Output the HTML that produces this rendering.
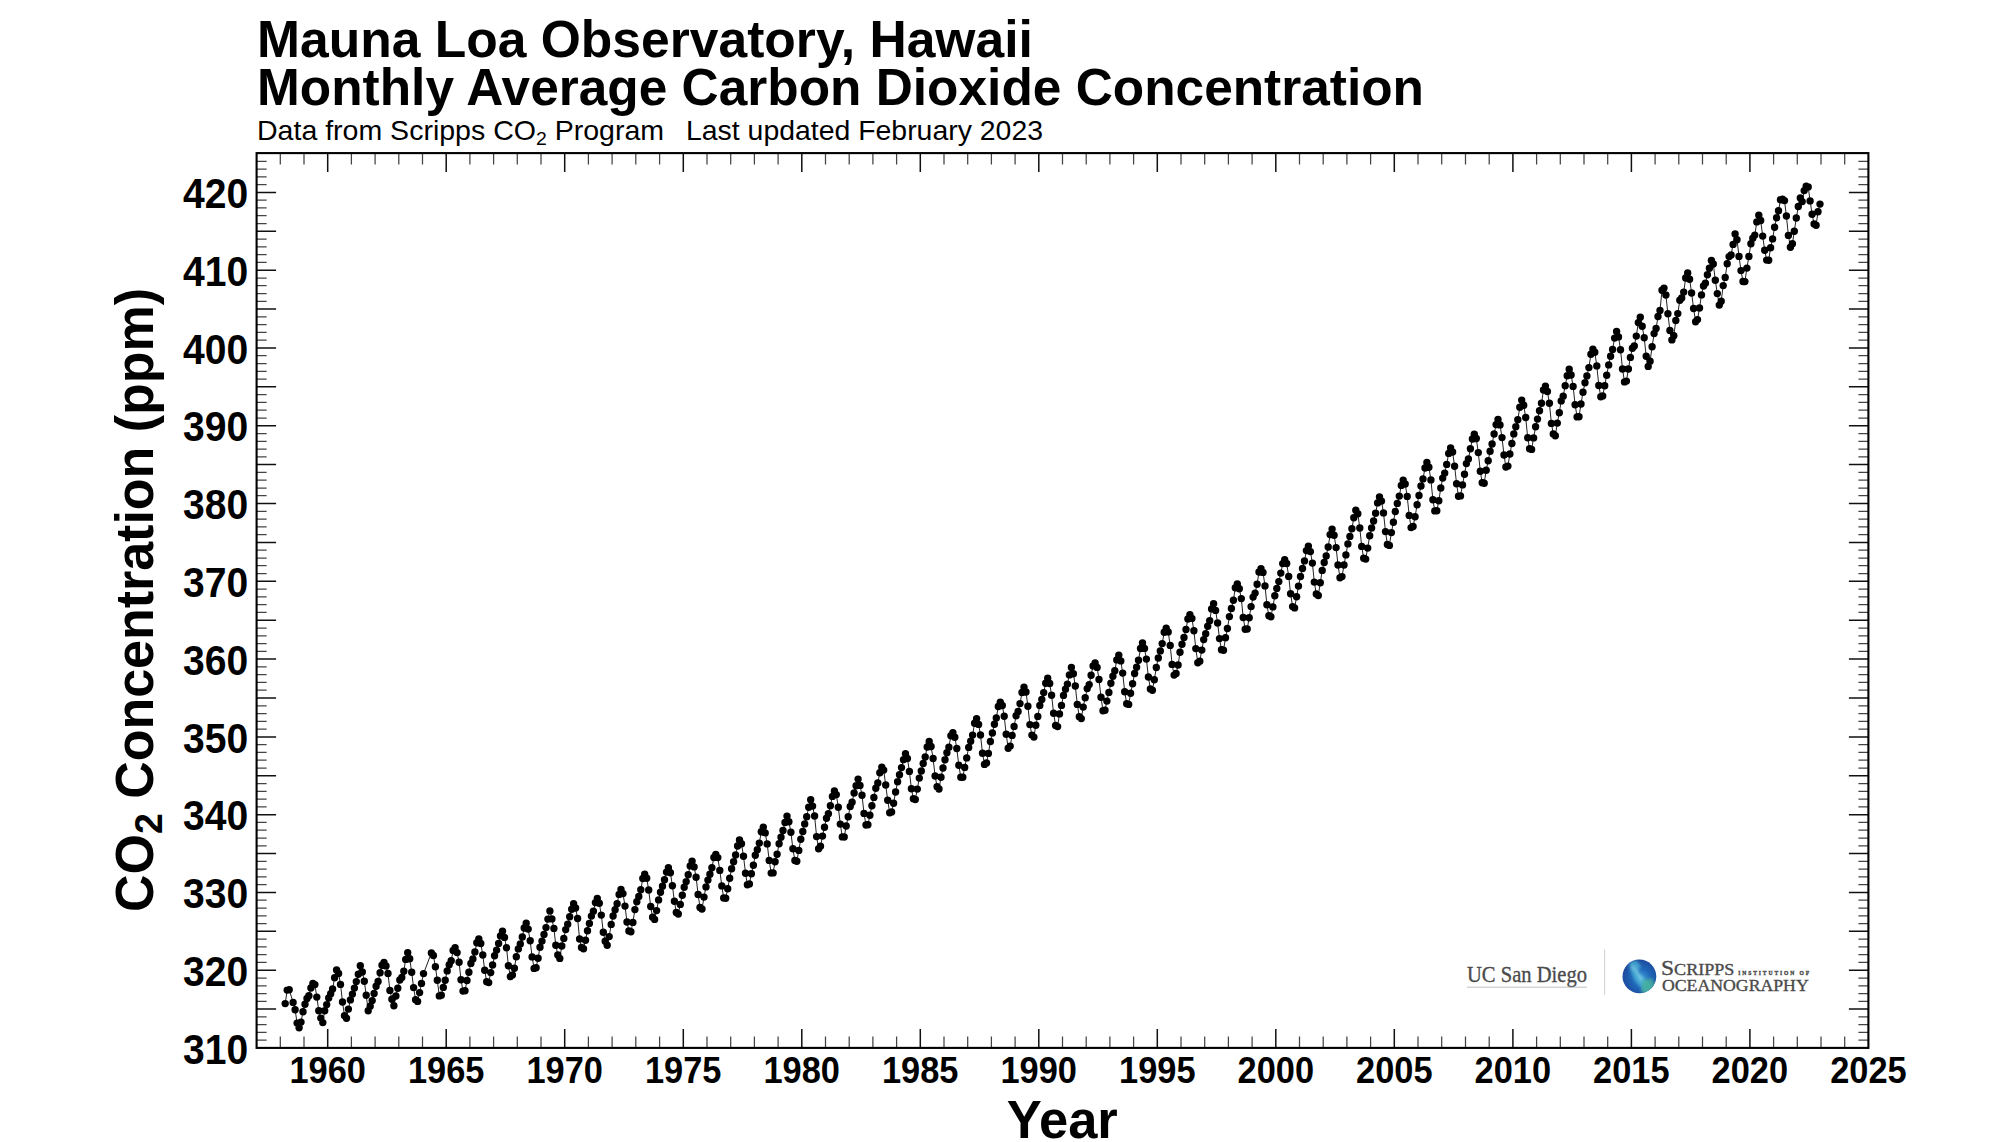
<!DOCTYPE html>
<html><head><meta charset="utf-8"><title>Mauna Loa CO2</title>
<style>
html,body{margin:0;padding:0;background:#fff;}
body{width:1998px;height:1142px;overflow:hidden;font-family:"Liberation Sans",sans-serif;}
svg{display:block}
text{font-family:"Liberation Sans",sans-serif;fill:#000}
.b{font-weight:bold}
.sf{font-family:"Liberation Serif",serif;fill:#4a4a4a}
</style></head><body>
<svg width="1998" height="1142" viewBox="0 0 1998 1142">
<rect width="1998" height="1142" fill="#fff"/>
<text class="b" font-size="52.5" x="257" y="57.0" textLength="775.8" lengthAdjust="spacingAndGlyphs">Mauna Loa Observatory, Hawaii</text>
<text class="b" font-size="52.5" x="257" y="105.3" textLength="1167" lengthAdjust="spacingAndGlyphs">Monthly Average Carbon Dioxide Concentration</text>
<text class="n" font-size="27.5" x="257" y="139.5" textLength="407" lengthAdjust="spacingAndGlyphs">Data from Scripps CO<tspan font-size="18.7" dy="5.5">2</tspan><tspan dy="-5.5"> Program</tspan></text>
<text class="n" font-size="27.5" x="686" y="139.5" textLength="357" lengthAdjust="spacingAndGlyphs">Last updated February 2023</text>
<path d="M285.2 1003.6 L287.2 990.1 L289.2 989.7 L293.1 1002.4 L295.1 1009.7 L297.1 1023.1 L299.1 1027.8 L301.0 1022.1 L303.0 1011.7 L305.0 1004.3 L307.0 998.4 L308.9 995.8 L310.9 988.0 L312.9 983.5 L314.9 984.6 L316.8 997.1 L318.8 1010.7 L320.8 1018.1 L322.8 1022.6 L324.7 1010.7 L326.7 1004.6 L328.7 998.0 L330.7 993.8 L332.6 989.0 L334.6 977.8 L336.6 970.0 L338.6 973.4 L340.5 984.4 L342.5 1002.0 L344.5 1015.6 L346.5 1018.2 L348.4 1009.1 L350.4 999.9 L352.4 994.1 L354.4 988.1 L356.3 981.6 L358.3 974.3 L360.3 965.7 L362.3 972.0 L364.3 981.3 L366.2 995.2 L368.2 1010.7 L370.2 1006.2 L372.2 1000.6 L374.1 993.5 L376.1 986.2 L378.1 981.4 L380.1 972.7 L382.0 965.3 L384.0 962.4 L386.0 965.9 L388.0 973.5 L389.9 990.4 L391.9 999.3 L393.9 1005.8 L395.9 996.0 L397.8 988.2 L399.8 980.0 L401.8 977.4 L403.8 971.3 L405.7 959.4 L407.7 952.7 L409.7 958.8 L411.7 972.2 L413.6 987.6 L415.6 999.7 L417.6 1001.4 L419.6 992.6 L421.5 983.4 L423.5 973.6 L431.4 952.9 L433.4 955.5 L435.4 966.8 L437.3 980.3 L439.3 995.9 L441.3 995.2 L443.3 987.4 L445.2 980.3 L447.2 970.9 L449.2 964.8 L451.2 960.7 L453.1 950.5 L455.1 947.6 L457.1 952.6 L459.1 962.2 L461.0 979.8 L463.0 991.1 L465.0 990.7 L467.0 980.5 L468.9 972.3 L470.9 963.4 L472.9 959.0 L474.9 951.9 L476.8 942.8 L478.8 938.9 L480.8 943.5 L482.8 955.0 L484.7 970.3 L486.7 981.8 L488.7 982.6 L490.7 972.6 L492.6 965.0 L494.6 955.8 L496.6 950.1 L498.6 943.4 L500.5 935.9 L502.5 931.2 L504.5 937.4 L506.5 947.7 L508.4 965.7 L510.4 976.6 L512.4 975.0 L514.4 968.2 L516.3 956.7 L518.3 948.9 L520.3 944.0 L522.3 937.0 L524.2 928.0 L526.2 923.2 L528.2 929.1 L530.2 940.8 L532.1 956.9 L534.1 968.4 L536.1 967.7 L538.1 958.2 L540.0 947.2 L542.0 941.1 L544.0 934.4 L546.0 927.6 L547.9 919.1 L549.9 910.9 L551.9 918.9 L553.9 928.4 L555.8 945.2 L557.8 954.9 L559.8 958.4 L561.8 946.0 L563.8 938.4 L565.7 929.6 L567.7 924.3 L569.7 916.8 L571.7 909.2 L573.6 903.7 L575.6 908.0 L577.6 918.5 L579.6 939.0 L581.5 947.5 L583.5 948.7 L585.5 940.3 L587.5 930.8 L589.4 923.4 L591.4 916.1 L593.4 911.2 L595.4 902.6 L597.3 898.4 L599.3 903.3 L601.3 915.1 L603.3 932.3 L605.2 941.3 L607.2 945.2 L609.2 936.6 L611.2 924.4 L613.1 916.0 L615.1 909.8 L617.1 903.7 L619.1 894.4 L621.0 889.4 L623.0 893.6 L625.0 906.1 L627.0 922.0 L628.9 930.9 L630.9 931.8 L632.9 922.4 L634.9 909.6 L636.8 901.8 L638.8 896.5 L640.8 889.7 L642.8 878.5 L644.7 874.1 L646.7 878.3 L648.7 890.0 L650.7 906.5 L652.6 917.2 L654.6 919.4 L656.6 910.6 L658.6 899.9 L660.5 892.3 L662.5 886.3 L664.5 879.8 L666.5 872.1 L668.4 867.8 L670.4 872.8 L672.4 885.8 L674.4 901.2 L676.3 912.4 L678.3 914.0 L680.3 904.4 L682.3 895.2 L684.2 887.3 L686.2 881.6 L688.2 874.8 L690.2 865.9 L692.1 861.1 L694.1 866.9 L696.1 877.2 L698.1 894.5 L700.0 907.4 L702.0 909.0 L704.0 897.1 L706.0 886.9 L707.9 880.1 L709.9 874.2 L711.9 867.8 L713.9 857.5 L715.8 854.4 L717.8 857.6 L719.8 870.4 L721.8 885.9 L723.7 898.0 L725.7 898.2 L727.7 888.7 L729.7 878.2 L731.6 868.8 L733.6 861.8 L735.6 855.0 L737.6 846.0 L739.5 839.9 L741.5 843.8 L743.5 856.3 L745.5 873.2 L747.4 884.8 L749.4 883.9 L751.4 873.7 L753.4 865.2 L755.3 855.2 L757.3 849.8 L759.3 843.1 L761.3 831.7 L763.3 827.1 L765.2 832.9 L767.2 843.9 L769.2 860.4 L771.2 873.1 L773.1 872.9 L775.1 861.8 L777.1 854.3 L779.1 843.7 L781.0 837.2 L783.0 830.5 L785.0 822.5 L787.0 816.1 L788.9 821.8 L790.9 832.2 L792.9 848.8 L794.9 860.5 L796.8 861.3 L798.8 850.4 L800.8 839.2 L802.8 831.5 L804.7 823.9 L806.7 816.7 L808.7 807.3 L810.7 799.8 L812.6 806.1 L814.6 816.0 L816.6 836.6 L818.6 848.7 L820.5 846.3 L822.5 836.1 L824.5 827.3 L826.5 818.2 L828.4 813.7 L830.4 805.8 L832.4 796.4 L834.4 790.9 L836.3 794.6 L838.3 807.2 L840.3 824.1 L842.3 836.9 L844.2 837.0 L846.2 826.0 L848.2 816.7 L850.2 806.5 L852.1 802.2 L854.1 793.0 L856.1 785.7 L858.1 779.1 L860.0 785.4 L862.0 795.2 L864.0 813.4 L866.0 825.0 L867.9 824.8 L869.9 815.3 L871.9 805.7 L873.9 797.4 L875.8 788.3 L877.8 782.9 L879.8 772.8 L881.8 767.2 L883.7 770.1 L885.7 785.0 L887.7 800.3 L889.7 812.7 L891.6 812.0 L893.6 803.2 L895.6 792.0 L897.6 781.8 L899.5 774.8 L901.5 767.6 L903.5 759.7 L905.5 753.8 L907.4 758.4 L909.4 771.4 L911.4 788.7 L913.4 798.8 L915.3 799.5 L917.3 789.1 L919.3 778.1 L921.3 771.0 L923.2 763.5 L925.2 756.9 L927.2 747.0 L929.2 741.5 L931.1 746.5 L933.1 758.5 L935.1 776.0 L937.1 786.7 L939.0 789.0 L941.0 777.3 L943.0 768.0 L945.0 759.8 L946.9 752.8 L948.9 747.3 L950.9 735.8 L952.9 732.6 L954.8 737.2 L956.8 748.5 L958.8 765.3 L960.8 777.2 L962.8 777.3 L964.7 767.4 L966.7 757.9 L968.7 747.4 L970.7 741.2 L972.6 735.1 L974.6 723.3 L976.6 718.8 L978.6 724.4 L980.5 735.0 L982.5 753.3 L984.5 764.4 L986.5 763.0 L988.4 753.4 L990.4 741.5 L992.4 733.0 L994.4 724.3 L996.3 717.9 L998.3 706.5 L1000.3 702.3 L1002.3 705.5 L1004.2 716.3 L1006.2 734.2 L1008.2 748.3 L1010.2 746.1 L1012.1 735.4 L1014.1 726.4 L1016.1 715.7 L1018.1 711.5 L1020.0 703.6 L1022.0 692.5 L1024.0 687.2 L1026.0 692.0 L1027.9 706.3 L1029.9 724.6 L1031.9 735.1 L1033.9 737.1 L1035.8 725.3 L1037.8 716.4 L1039.8 705.4 L1041.8 699.4 L1043.7 692.6 L1045.7 683.2 L1047.7 678.3 L1049.7 683.5 L1051.6 695.3 L1053.6 713.2 L1055.6 725.4 L1057.6 726.6 L1059.5 713.9 L1061.5 705.4 L1063.5 695.4 L1065.5 689.2 L1067.4 684.1 L1069.4 674.9 L1071.4 667.4 L1073.4 673.8 L1075.3 686.0 L1077.3 704.4 L1079.3 716.7 L1081.3 718.6 L1083.2 707.1 L1085.2 697.8 L1087.2 688.6 L1089.2 684.6 L1091.1 675.2 L1093.1 665.9 L1095.1 662.9 L1097.1 667.4 L1099.0 679.5 L1101.0 697.3 L1103.0 710.7 L1105.0 710.3 L1106.9 701.1 L1108.9 692.4 L1110.9 683.3 L1112.9 676.3 L1114.8 670.7 L1116.8 659.9 L1118.8 655.1 L1120.8 660.9 L1122.7 673.1 L1124.7 691.7 L1126.7 703.8 L1128.7 704.4 L1130.6 693.3 L1132.6 683.8 L1134.6 673.5 L1136.6 667.3 L1138.5 660.2 L1140.5 648.5 L1142.5 643.0 L1144.5 648.4 L1146.4 659.1 L1148.4 677.0 L1150.4 689.0 L1152.4 690.3 L1154.3 679.7 L1156.3 667.5 L1158.3 658.0 L1160.3 650.9 L1162.2 643.6 L1164.2 632.3 L1166.2 628.1 L1168.2 631.9 L1170.2 645.4 L1172.1 664.4 L1174.1 675.1 L1176.1 673.5 L1178.1 665.0 L1180.0 652.3 L1182.0 644.2 L1184.0 637.4 L1186.0 629.5 L1187.9 619.0 L1189.9 614.6 L1191.9 618.4 L1193.9 630.7 L1195.8 648.6 L1197.8 662.7 L1199.8 661.2 L1201.8 650.1 L1203.7 639.6 L1205.7 633.7 L1207.7 626.2 L1209.7 620.8 L1211.6 608.9 L1213.6 603.8 L1215.6 610.4 L1217.6 623.0 L1219.5 638.6 L1221.5 649.8 L1223.5 650.3 L1225.5 637.8 L1227.4 628.5 L1229.4 616.6 L1231.4 608.5 L1233.4 600.2 L1235.3 587.7 L1237.3 583.9 L1239.3 588.8 L1241.3 598.6 L1243.2 617.5 L1245.2 629.2 L1247.2 629.0 L1249.2 617.8 L1251.1 606.6 L1253.1 597.1 L1255.1 593.1 L1257.1 584.2 L1259.0 572.0 L1261.0 568.7 L1263.0 572.4 L1265.0 585.9 L1266.9 604.7 L1268.9 615.8 L1270.9 616.8 L1272.9 606.9 L1274.8 595.8 L1276.8 588.4 L1278.8 581.6 L1280.8 573.1 L1282.7 563.6 L1284.7 559.6 L1286.7 563.5 L1288.7 576.4 L1290.6 593.7 L1292.6 606.6 L1294.6 607.9 L1296.6 596.8 L1298.5 586.1 L1300.5 576.5 L1302.5 568.5 L1304.5 560.9 L1306.4 550.6 L1308.4 546.1 L1310.4 551.6 L1312.4 563.1 L1314.3 582.1 L1316.3 593.9 L1318.3 595.5 L1320.3 582.8 L1322.2 570.4 L1324.2 562.5 L1326.2 555.9 L1328.2 547.0 L1330.1 534.6 L1332.1 529.1 L1334.1 535.3 L1336.1 547.6 L1338.0 565.0 L1340.0 577.8 L1342.0 576.6 L1344.0 565.0 L1345.9 554.9 L1347.9 543.9 L1349.9 536.4 L1351.9 528.8 L1353.8 517.8 L1355.8 510.2 L1357.8 513.7 L1359.8 528.0 L1361.7 546.4 L1363.7 558.3 L1365.7 559.1 L1367.7 548.1 L1369.7 535.7 L1371.6 528.0 L1373.6 521.0 L1375.6 513.3 L1377.6 502.9 L1379.5 496.9 L1381.5 501.1 L1383.5 512.9 L1385.5 531.6 L1387.4 544.5 L1389.4 545.4 L1391.4 532.6 L1393.4 522.3 L1395.3 511.5 L1397.3 503.4 L1399.3 496.1 L1401.3 485.4 L1403.2 480.1 L1405.2 484.0 L1407.2 496.4 L1409.2 515.4 L1411.1 527.6 L1413.1 526.4 L1415.1 516.7 L1417.1 504.8 L1419.0 495.4 L1421.0 486.0 L1423.0 478.9 L1425.0 468.0 L1426.9 462.4 L1428.9 467.2 L1430.9 479.9 L1432.9 499.8 L1434.8 510.9 L1436.8 510.7 L1438.8 500.7 L1440.8 488.0 L1442.7 478.1 L1444.7 473.1 L1446.7 464.4 L1448.7 453.4 L1450.6 447.9 L1452.6 452.0 L1454.6 466.2 L1456.6 483.8 L1458.5 496.2 L1460.5 495.9 L1462.5 484.9 L1464.5 474.3 L1466.4 463.6 L1468.4 459.0 L1470.4 448.8 L1472.4 439.0 L1474.3 434.3 L1476.3 438.5 L1478.3 452.6 L1480.3 471.3 L1482.2 482.7 L1484.2 483.2 L1486.2 470.2 L1488.2 460.8 L1490.1 451.2 L1492.1 444.0 L1494.1 434.0 L1496.1 424.6 L1498.0 419.5 L1500.0 424.9 L1502.0 437.6 L1504.0 455.0 L1505.9 467.0 L1507.9 466.1 L1509.9 454.0 L1511.9 443.5 L1513.8 433.9 L1515.8 426.7 L1517.8 419.7 L1519.8 407.3 L1521.7 400.1 L1523.7 405.3 L1525.7 417.5 L1527.7 437.7 L1529.6 448.7 L1531.6 449.4 L1533.6 437.9 L1535.6 426.8 L1537.5 419.1 L1539.5 410.7 L1541.5 403.2 L1543.5 390.0 L1545.4 386.2 L1547.4 391.5 L1549.4 403.3 L1551.4 423.4 L1553.3 434.0 L1555.3 435.7 L1557.3 423.1 L1559.3 412.7 L1561.2 400.9 L1563.2 396.2 L1565.2 385.7 L1567.2 375.8 L1569.2 369.2 L1571.1 375.0 L1573.1 386.4 L1575.1 404.7 L1577.1 416.9 L1579.0 416.7 L1581.0 404.0 L1583.0 392.2 L1585.0 382.8 L1586.9 375.9 L1588.9 367.6 L1590.9 354.3 L1592.9 349.1 L1594.8 352.3 L1596.8 365.9 L1598.8 385.5 L1600.8 396.8 L1602.7 395.9 L1604.7 385.7 L1606.7 375.2 L1608.7 364.9 L1610.6 356.2 L1612.6 349.4 L1614.6 338.1 L1616.6 331.4 L1618.5 336.9 L1620.5 349.7 L1622.5 369.0 L1624.5 381.9 L1626.4 381.1 L1628.4 369.0 L1630.4 357.4 L1632.4 348.3 L1634.3 345.9 L1636.3 336.1 L1638.3 322.6 L1640.3 317.3 L1642.2 326.2 L1644.2 337.8 L1646.2 356.3 L1648.2 366.4 L1650.1 361.3 L1652.1 346.7 L1654.1 333.6 L1656.1 328.4 L1658.0 316.5 L1660.0 310.4 L1662.0 290.2 L1664.0 288.1 L1665.9 295.0 L1667.9 313.8 L1669.9 330.5 L1671.9 339.9 L1673.8 335.7 L1675.8 320.5 L1677.8 313.6 L1679.8 300.3 L1681.7 298.0 L1683.7 292.1 L1685.7 278.0 L1687.7 272.9 L1689.6 279.2 L1691.6 293.0 L1693.6 308.5 L1695.6 321.7 L1697.5 319.6 L1699.5 308.0 L1701.5 294.9 L1703.5 286.0 L1705.4 283.2 L1707.4 274.8 L1709.4 268.3 L1711.4 260.5 L1713.3 264.0 L1715.3 280.2 L1717.3 293.6 L1719.3 305.1 L1721.2 301.3 L1723.2 285.6 L1725.2 277.4 L1727.2 263.7 L1729.1 256.6 L1731.1 254.9 L1733.1 244.4 L1735.1 233.9 L1737.0 239.7 L1739.0 256.4 L1741.0 270.6 L1743.0 281.5 L1744.9 281.6 L1746.9 268.1 L1748.9 256.5 L1750.9 243.7 L1752.8 238.2 L1754.8 235.1 L1756.8 221.9 L1758.8 215.2 L1760.7 220.5 L1762.7 236.1 L1764.7 250.3 L1766.7 260.1 L1768.7 260.2 L1770.6 247.7 L1772.6 238.9 L1774.6 227.2 L1776.6 217.7 L1778.5 210.7 L1780.5 199.8 L1782.5 199.2 L1784.5 200.6 L1786.4 216.0 L1788.4 235.4 L1790.4 247.2 L1792.4 243.7 L1794.3 231.2 L1796.3 218.0 L1798.3 206.5 L1800.3 198.0 L1802.2 201.6 L1804.2 190.6 L1806.2 186.2 L1808.2 186.9 L1810.1 200.9 L1812.1 214.2 L1814.1 223.9 L1816.1 225.2 L1818.0 211.8 L1820.0 204.1" fill="none" stroke="#222" stroke-width="1"/>
<path d="M285.2 1003.6h0M287.2 990.1h0M289.2 989.7h0M293.1 1002.4h0M295.1 1009.7h0M297.1 1023.1h0M299.1 1027.8h0M301.0 1022.1h0M303.0 1011.7h0M305.0 1004.3h0M307.0 998.4h0M308.9 995.8h0M310.9 988.0h0M312.9 983.5h0M314.9 984.6h0M316.8 997.1h0M318.8 1010.7h0M320.8 1018.1h0M322.8 1022.6h0M324.7 1010.7h0M326.7 1004.6h0M328.7 998.0h0M330.7 993.8h0M332.6 989.0h0M334.6 977.8h0M336.6 970.0h0M338.6 973.4h0M340.5 984.4h0M342.5 1002.0h0M344.5 1015.6h0M346.5 1018.2h0M348.4 1009.1h0M350.4 999.9h0M352.4 994.1h0M354.4 988.1h0M356.3 981.6h0M358.3 974.3h0M360.3 965.7h0M362.3 972.0h0M364.3 981.3h0M366.2 995.2h0M368.2 1010.7h0M370.2 1006.2h0M372.2 1000.6h0M374.1 993.5h0M376.1 986.2h0M378.1 981.4h0M380.1 972.7h0M382.0 965.3h0M384.0 962.4h0M386.0 965.9h0M388.0 973.5h0M389.9 990.4h0M391.9 999.3h0M393.9 1005.8h0M395.9 996.0h0M397.8 988.2h0M399.8 980.0h0M401.8 977.4h0M403.8 971.3h0M405.7 959.4h0M407.7 952.7h0M409.7 958.8h0M411.7 972.2h0M413.6 987.6h0M415.6 999.7h0M417.6 1001.4h0M419.6 992.6h0M421.5 983.4h0M423.5 973.6h0M431.4 952.9h0M433.4 955.5h0M435.4 966.8h0M437.3 980.3h0M439.3 995.9h0M441.3 995.2h0M443.3 987.4h0M445.2 980.3h0M447.2 970.9h0M449.2 964.8h0M451.2 960.7h0M453.1 950.5h0M455.1 947.6h0M457.1 952.6h0M459.1 962.2h0M461.0 979.8h0M463.0 991.1h0M465.0 990.7h0M467.0 980.5h0M468.9 972.3h0M470.9 963.4h0M472.9 959.0h0M474.9 951.9h0M476.8 942.8h0M478.8 938.9h0M480.8 943.5h0M482.8 955.0h0M484.7 970.3h0M486.7 981.8h0M488.7 982.6h0M490.7 972.6h0M492.6 965.0h0M494.6 955.8h0M496.6 950.1h0M498.6 943.4h0M500.5 935.9h0M502.5 931.2h0M504.5 937.4h0M506.5 947.7h0M508.4 965.7h0M510.4 976.6h0M512.4 975.0h0M514.4 968.2h0M516.3 956.7h0M518.3 948.9h0M520.3 944.0h0M522.3 937.0h0M524.2 928.0h0M526.2 923.2h0M528.2 929.1h0M530.2 940.8h0M532.1 956.9h0M534.1 968.4h0M536.1 967.7h0M538.1 958.2h0M540.0 947.2h0M542.0 941.1h0M544.0 934.4h0M546.0 927.6h0M547.9 919.1h0M549.9 910.9h0M551.9 918.9h0M553.9 928.4h0M555.8 945.2h0M557.8 954.9h0M559.8 958.4h0M561.8 946.0h0M563.8 938.4h0M565.7 929.6h0M567.7 924.3h0M569.7 916.8h0M571.7 909.2h0M573.6 903.7h0M575.6 908.0h0M577.6 918.5h0M579.6 939.0h0M581.5 947.5h0M583.5 948.7h0M585.5 940.3h0M587.5 930.8h0M589.4 923.4h0M591.4 916.1h0M593.4 911.2h0M595.4 902.6h0M597.3 898.4h0M599.3 903.3h0M601.3 915.1h0M603.3 932.3h0M605.2 941.3h0M607.2 945.2h0M609.2 936.6h0M611.2 924.4h0M613.1 916.0h0M615.1 909.8h0M617.1 903.7h0M619.1 894.4h0M621.0 889.4h0M623.0 893.6h0M625.0 906.1h0M627.0 922.0h0M628.9 930.9h0M630.9 931.8h0M632.9 922.4h0M634.9 909.6h0M636.8 901.8h0M638.8 896.5h0M640.8 889.7h0M642.8 878.5h0M644.7 874.1h0M646.7 878.3h0M648.7 890.0h0M650.7 906.5h0M652.6 917.2h0M654.6 919.4h0M656.6 910.6h0M658.6 899.9h0M660.5 892.3h0M662.5 886.3h0M664.5 879.8h0M666.5 872.1h0M668.4 867.8h0M670.4 872.8h0M672.4 885.8h0M674.4 901.2h0M676.3 912.4h0M678.3 914.0h0M680.3 904.4h0M682.3 895.2h0M684.2 887.3h0M686.2 881.6h0M688.2 874.8h0M690.2 865.9h0M692.1 861.1h0M694.1 866.9h0M696.1 877.2h0M698.1 894.5h0M700.0 907.4h0M702.0 909.0h0M704.0 897.1h0M706.0 886.9h0M707.9 880.1h0M709.9 874.2h0M711.9 867.8h0M713.9 857.5h0M715.8 854.4h0M717.8 857.6h0M719.8 870.4h0M721.8 885.9h0M723.7 898.0h0M725.7 898.2h0M727.7 888.7h0M729.7 878.2h0M731.6 868.8h0M733.6 861.8h0M735.6 855.0h0M737.6 846.0h0M739.5 839.9h0M741.5 843.8h0M743.5 856.3h0M745.5 873.2h0M747.4 884.8h0M749.4 883.9h0M751.4 873.7h0M753.4 865.2h0M755.3 855.2h0M757.3 849.8h0M759.3 843.1h0M761.3 831.7h0M763.3 827.1h0M765.2 832.9h0M767.2 843.9h0M769.2 860.4h0M771.2 873.1h0M773.1 872.9h0M775.1 861.8h0M777.1 854.3h0M779.1 843.7h0M781.0 837.2h0M783.0 830.5h0M785.0 822.5h0M787.0 816.1h0M788.9 821.8h0M790.9 832.2h0M792.9 848.8h0M794.9 860.5h0M796.8 861.3h0M798.8 850.4h0M800.8 839.2h0M802.8 831.5h0M804.7 823.9h0M806.7 816.7h0M808.7 807.3h0M810.7 799.8h0M812.6 806.1h0M814.6 816.0h0M816.6 836.6h0M818.6 848.7h0M820.5 846.3h0M822.5 836.1h0M824.5 827.3h0M826.5 818.2h0M828.4 813.7h0M830.4 805.8h0M832.4 796.4h0M834.4 790.9h0M836.3 794.6h0M838.3 807.2h0M840.3 824.1h0M842.3 836.9h0M844.2 837.0h0M846.2 826.0h0M848.2 816.7h0M850.2 806.5h0M852.1 802.2h0M854.1 793.0h0M856.1 785.7h0M858.1 779.1h0M860.0 785.4h0M862.0 795.2h0M864.0 813.4h0M866.0 825.0h0M867.9 824.8h0M869.9 815.3h0M871.9 805.7h0M873.9 797.4h0M875.8 788.3h0M877.8 782.9h0M879.8 772.8h0M881.8 767.2h0M883.7 770.1h0M885.7 785.0h0M887.7 800.3h0M889.7 812.7h0M891.6 812.0h0M893.6 803.2h0M895.6 792.0h0M897.6 781.8h0M899.5 774.8h0M901.5 767.6h0M903.5 759.7h0M905.5 753.8h0M907.4 758.4h0M909.4 771.4h0M911.4 788.7h0M913.4 798.8h0M915.3 799.5h0M917.3 789.1h0M919.3 778.1h0M921.3 771.0h0M923.2 763.5h0M925.2 756.9h0M927.2 747.0h0M929.2 741.5h0M931.1 746.5h0M933.1 758.5h0M935.1 776.0h0M937.1 786.7h0M939.0 789.0h0M941.0 777.3h0M943.0 768.0h0M945.0 759.8h0M946.9 752.8h0M948.9 747.3h0M950.9 735.8h0M952.9 732.6h0M954.8 737.2h0M956.8 748.5h0M958.8 765.3h0M960.8 777.2h0M962.8 777.3h0M964.7 767.4h0M966.7 757.9h0M968.7 747.4h0M970.7 741.2h0M972.6 735.1h0M974.6 723.3h0M976.6 718.8h0M978.6 724.4h0M980.5 735.0h0M982.5 753.3h0M984.5 764.4h0M986.5 763.0h0M988.4 753.4h0M990.4 741.5h0M992.4 733.0h0M994.4 724.3h0M996.3 717.9h0M998.3 706.5h0M1000.3 702.3h0M1002.3 705.5h0M1004.2 716.3h0M1006.2 734.2h0M1008.2 748.3h0M1010.2 746.1h0M1012.1 735.4h0M1014.1 726.4h0M1016.1 715.7h0M1018.1 711.5h0M1020.0 703.6h0M1022.0 692.5h0M1024.0 687.2h0M1026.0 692.0h0M1027.9 706.3h0M1029.9 724.6h0M1031.9 735.1h0M1033.9 737.1h0M1035.8 725.3h0M1037.8 716.4h0M1039.8 705.4h0M1041.8 699.4h0M1043.7 692.6h0M1045.7 683.2h0M1047.7 678.3h0M1049.7 683.5h0M1051.6 695.3h0M1053.6 713.2h0M1055.6 725.4h0M1057.6 726.6h0M1059.5 713.9h0M1061.5 705.4h0M1063.5 695.4h0M1065.5 689.2h0M1067.4 684.1h0M1069.4 674.9h0M1071.4 667.4h0M1073.4 673.8h0M1075.3 686.0h0M1077.3 704.4h0M1079.3 716.7h0M1081.3 718.6h0M1083.2 707.1h0M1085.2 697.8h0M1087.2 688.6h0M1089.2 684.6h0M1091.1 675.2h0M1093.1 665.9h0M1095.1 662.9h0M1097.1 667.4h0M1099.0 679.5h0M1101.0 697.3h0M1103.0 710.7h0M1105.0 710.3h0M1106.9 701.1h0M1108.9 692.4h0M1110.9 683.3h0M1112.9 676.3h0M1114.8 670.7h0M1116.8 659.9h0M1118.8 655.1h0M1120.8 660.9h0M1122.7 673.1h0M1124.7 691.7h0M1126.7 703.8h0M1128.7 704.4h0M1130.6 693.3h0M1132.6 683.8h0M1134.6 673.5h0M1136.6 667.3h0M1138.5 660.2h0M1140.5 648.5h0M1142.5 643.0h0M1144.5 648.4h0M1146.4 659.1h0M1148.4 677.0h0M1150.4 689.0h0M1152.4 690.3h0M1154.3 679.7h0M1156.3 667.5h0M1158.3 658.0h0M1160.3 650.9h0M1162.2 643.6h0M1164.2 632.3h0M1166.2 628.1h0M1168.2 631.9h0M1170.2 645.4h0M1172.1 664.4h0M1174.1 675.1h0M1176.1 673.5h0M1178.1 665.0h0M1180.0 652.3h0M1182.0 644.2h0M1184.0 637.4h0M1186.0 629.5h0M1187.9 619.0h0M1189.9 614.6h0M1191.9 618.4h0M1193.9 630.7h0M1195.8 648.6h0M1197.8 662.7h0M1199.8 661.2h0M1201.8 650.1h0M1203.7 639.6h0M1205.7 633.7h0M1207.7 626.2h0M1209.7 620.8h0M1211.6 608.9h0M1213.6 603.8h0M1215.6 610.4h0M1217.6 623.0h0M1219.5 638.6h0M1221.5 649.8h0M1223.5 650.3h0M1225.5 637.8h0M1227.4 628.5h0M1229.4 616.6h0M1231.4 608.5h0M1233.4 600.2h0M1235.3 587.7h0M1237.3 583.9h0M1239.3 588.8h0M1241.3 598.6h0M1243.2 617.5h0M1245.2 629.2h0M1247.2 629.0h0M1249.2 617.8h0M1251.1 606.6h0M1253.1 597.1h0M1255.1 593.1h0M1257.1 584.2h0M1259.0 572.0h0M1261.0 568.7h0M1263.0 572.4h0M1265.0 585.9h0M1266.9 604.7h0M1268.9 615.8h0M1270.9 616.8h0M1272.9 606.9h0M1274.8 595.8h0M1276.8 588.4h0M1278.8 581.6h0M1280.8 573.1h0M1282.7 563.6h0M1284.7 559.6h0M1286.7 563.5h0M1288.7 576.4h0M1290.6 593.7h0M1292.6 606.6h0M1294.6 607.9h0M1296.6 596.8h0M1298.5 586.1h0M1300.5 576.5h0M1302.5 568.5h0M1304.5 560.9h0M1306.4 550.6h0M1308.4 546.1h0M1310.4 551.6h0M1312.4 563.1h0M1314.3 582.1h0M1316.3 593.9h0M1318.3 595.5h0M1320.3 582.8h0M1322.2 570.4h0M1324.2 562.5h0M1326.2 555.9h0M1328.2 547.0h0M1330.1 534.6h0M1332.1 529.1h0M1334.1 535.3h0M1336.1 547.6h0M1338.0 565.0h0M1340.0 577.8h0M1342.0 576.6h0M1344.0 565.0h0M1345.9 554.9h0M1347.9 543.9h0M1349.9 536.4h0M1351.9 528.8h0M1353.8 517.8h0M1355.8 510.2h0M1357.8 513.7h0M1359.8 528.0h0M1361.7 546.4h0M1363.7 558.3h0M1365.7 559.1h0M1367.7 548.1h0M1369.7 535.7h0M1371.6 528.0h0M1373.6 521.0h0M1375.6 513.3h0M1377.6 502.9h0M1379.5 496.9h0M1381.5 501.1h0M1383.5 512.9h0M1385.5 531.6h0M1387.4 544.5h0M1389.4 545.4h0M1391.4 532.6h0M1393.4 522.3h0M1395.3 511.5h0M1397.3 503.4h0M1399.3 496.1h0M1401.3 485.4h0M1403.2 480.1h0M1405.2 484.0h0M1407.2 496.4h0M1409.2 515.4h0M1411.1 527.6h0M1413.1 526.4h0M1415.1 516.7h0M1417.1 504.8h0M1419.0 495.4h0M1421.0 486.0h0M1423.0 478.9h0M1425.0 468.0h0M1426.9 462.4h0M1428.9 467.2h0M1430.9 479.9h0M1432.9 499.8h0M1434.8 510.9h0M1436.8 510.7h0M1438.8 500.7h0M1440.8 488.0h0M1442.7 478.1h0M1444.7 473.1h0M1446.7 464.4h0M1448.7 453.4h0M1450.6 447.9h0M1452.6 452.0h0M1454.6 466.2h0M1456.6 483.8h0M1458.5 496.2h0M1460.5 495.9h0M1462.5 484.9h0M1464.5 474.3h0M1466.4 463.6h0M1468.4 459.0h0M1470.4 448.8h0M1472.4 439.0h0M1474.3 434.3h0M1476.3 438.5h0M1478.3 452.6h0M1480.3 471.3h0M1482.2 482.7h0M1484.2 483.2h0M1486.2 470.2h0M1488.2 460.8h0M1490.1 451.2h0M1492.1 444.0h0M1494.1 434.0h0M1496.1 424.6h0M1498.0 419.5h0M1500.0 424.9h0M1502.0 437.6h0M1504.0 455.0h0M1505.9 467.0h0M1507.9 466.1h0M1509.9 454.0h0M1511.9 443.5h0M1513.8 433.9h0M1515.8 426.7h0M1517.8 419.7h0M1519.8 407.3h0M1521.7 400.1h0M1523.7 405.3h0M1525.7 417.5h0M1527.7 437.7h0M1529.6 448.7h0M1531.6 449.4h0M1533.6 437.9h0M1535.6 426.8h0M1537.5 419.1h0M1539.5 410.7h0M1541.5 403.2h0M1543.5 390.0h0M1545.4 386.2h0M1547.4 391.5h0M1549.4 403.3h0M1551.4 423.4h0M1553.3 434.0h0M1555.3 435.7h0M1557.3 423.1h0M1559.3 412.7h0M1561.2 400.9h0M1563.2 396.2h0M1565.2 385.7h0M1567.2 375.8h0M1569.2 369.2h0M1571.1 375.0h0M1573.1 386.4h0M1575.1 404.7h0M1577.1 416.9h0M1579.0 416.7h0M1581.0 404.0h0M1583.0 392.2h0M1585.0 382.8h0M1586.9 375.9h0M1588.9 367.6h0M1590.9 354.3h0M1592.9 349.1h0M1594.8 352.3h0M1596.8 365.9h0M1598.8 385.5h0M1600.8 396.8h0M1602.7 395.9h0M1604.7 385.7h0M1606.7 375.2h0M1608.7 364.9h0M1610.6 356.2h0M1612.6 349.4h0M1614.6 338.1h0M1616.6 331.4h0M1618.5 336.9h0M1620.5 349.7h0M1622.5 369.0h0M1624.5 381.9h0M1626.4 381.1h0M1628.4 369.0h0M1630.4 357.4h0M1632.4 348.3h0M1634.3 345.9h0M1636.3 336.1h0M1638.3 322.6h0M1640.3 317.3h0M1642.2 326.2h0M1644.2 337.8h0M1646.2 356.3h0M1648.2 366.4h0M1650.1 361.3h0M1652.1 346.7h0M1654.1 333.6h0M1656.1 328.4h0M1658.0 316.5h0M1660.0 310.4h0M1662.0 290.2h0M1664.0 288.1h0M1665.9 295.0h0M1667.9 313.8h0M1669.9 330.5h0M1671.9 339.9h0M1673.8 335.7h0M1675.8 320.5h0M1677.8 313.6h0M1679.8 300.3h0M1681.7 298.0h0M1683.7 292.1h0M1685.7 278.0h0M1687.7 272.9h0M1689.6 279.2h0M1691.6 293.0h0M1693.6 308.5h0M1695.6 321.7h0M1697.5 319.6h0M1699.5 308.0h0M1701.5 294.9h0M1703.5 286.0h0M1705.4 283.2h0M1707.4 274.8h0M1709.4 268.3h0M1711.4 260.5h0M1713.3 264.0h0M1715.3 280.2h0M1717.3 293.6h0M1719.3 305.1h0M1721.2 301.3h0M1723.2 285.6h0M1725.2 277.4h0M1727.2 263.7h0M1729.1 256.6h0M1731.1 254.9h0M1733.1 244.4h0M1735.1 233.9h0M1737.0 239.7h0M1739.0 256.4h0M1741.0 270.6h0M1743.0 281.5h0M1744.9 281.6h0M1746.9 268.1h0M1748.9 256.5h0M1750.9 243.7h0M1752.8 238.2h0M1754.8 235.1h0M1756.8 221.9h0M1758.8 215.2h0M1760.7 220.5h0M1762.7 236.1h0M1764.7 250.3h0M1766.7 260.1h0M1768.7 260.2h0M1770.6 247.7h0M1772.6 238.9h0M1774.6 227.2h0M1776.6 217.7h0M1778.5 210.7h0M1780.5 199.8h0M1782.5 199.2h0M1784.5 200.6h0M1786.4 216.0h0M1788.4 235.4h0M1790.4 247.2h0M1792.4 243.7h0M1794.3 231.2h0M1796.3 218.0h0M1798.3 206.5h0M1800.3 198.0h0M1802.2 201.6h0M1804.2 190.6h0M1806.2 186.2h0M1808.2 186.9h0M1810.1 200.9h0M1812.1 214.2h0M1814.1 223.9h0M1816.1 225.2h0M1818.0 211.8h0M1820.0 204.1h0" fill="none" stroke="#000" stroke-width="7.4" stroke-linecap="round"/>
<path d="M327.7 1047.9v-19M327.7 153.1v19M446.2 1047.9v-19M446.2 153.1v19M564.7 1047.9v-19M564.7 153.1v19M683.3 1047.9v-19M683.3 153.1v19M801.8 1047.9v-19M801.8 153.1v19M920.3 1047.9v-19M920.3 153.1v19M1038.8 1047.9v-19M1038.8 153.1v19M1157.3 1047.9v-19M1157.3 153.1v19M1275.8 1047.9v-19M1275.8 153.1v19M1394.3 1047.9v-19M1394.3 153.1v19M1512.9 1047.9v-19M1512.9 153.1v19M1631.4 1047.9v-19M1631.4 153.1v19M1749.9 1047.9v-19M1749.9 153.1v19M256.6 1009.1h19.5M1868.4 1009.1h-19.5M256.6 970.2h19.5M1868.4 970.2h-19.5M256.6 931.3h19.5M1868.4 931.3h-19.5M256.6 892.4h19.5M1868.4 892.4h-19.5M256.6 853.5h19.5M1868.4 853.5h-19.5M256.6 814.7h19.5M1868.4 814.7h-19.5M256.6 775.8h19.5M1868.4 775.8h-19.5M256.6 736.9h19.5M1868.4 736.9h-19.5M256.6 698.0h19.5M1868.4 698.0h-19.5M256.6 659.1h19.5M1868.4 659.1h-19.5M256.6 620.2h19.5M1868.4 620.2h-19.5M256.6 581.3h19.5M1868.4 581.3h-19.5M256.6 542.4h19.5M1868.4 542.4h-19.5M256.6 503.5h19.5M1868.4 503.5h-19.5M256.6 464.6h19.5M1868.4 464.6h-19.5M256.6 425.7h19.5M1868.4 425.7h-19.5M256.6 386.8h19.5M1868.4 386.8h-19.5M256.6 348.0h19.5M1868.4 348.0h-19.5M256.6 309.1h19.5M1868.4 309.1h-19.5M256.6 270.2h19.5M1868.4 270.2h-19.5M256.6 231.3h19.5M1868.4 231.3h-19.5M256.6 192.4h19.5M1868.4 192.4h-19.5" fill="none" stroke="#111" stroke-width="1.5"/>
<path d="M280.3 1047.9v-11.5M280.3 153.1v11.5M304.0 1047.9v-11.5M304.0 153.1v11.5M351.4 1047.9v-11.5M351.4 153.1v11.5M375.1 1047.9v-11.5M375.1 153.1v11.5M398.8 1047.9v-11.5M398.8 153.1v11.5M422.5 1047.9v-11.5M422.5 153.1v11.5M469.9 1047.9v-11.5M469.9 153.1v11.5M493.6 1047.9v-11.5M493.6 153.1v11.5M517.3 1047.9v-11.5M517.3 153.1v11.5M541.0 1047.9v-11.5M541.0 153.1v11.5M588.4 1047.9v-11.5M588.4 153.1v11.5M612.1 1047.9v-11.5M612.1 153.1v11.5M635.8 1047.9v-11.5M635.8 153.1v11.5M659.6 1047.9v-11.5M659.6 153.1v11.5M707.0 1047.9v-11.5M707.0 153.1v11.5M730.7 1047.9v-11.5M730.7 153.1v11.5M754.4 1047.9v-11.5M754.4 153.1v11.5M778.1 1047.9v-11.5M778.1 153.1v11.5M825.5 1047.9v-11.5M825.5 153.1v11.5M849.2 1047.9v-11.5M849.2 153.1v11.5M872.9 1047.9v-11.5M872.9 153.1v11.5M896.6 1047.9v-11.5M896.6 153.1v11.5M944.0 1047.9v-11.5M944.0 153.1v11.5M967.7 1047.9v-11.5M967.7 153.1v11.5M991.4 1047.9v-11.5M991.4 153.1v11.5M1015.1 1047.9v-11.5M1015.1 153.1v11.5M1062.5 1047.9v-11.5M1062.5 153.1v11.5M1086.2 1047.9v-11.5M1086.2 153.1v11.5M1109.9 1047.9v-11.5M1109.9 153.1v11.5M1133.6 1047.9v-11.5M1133.6 153.1v11.5M1181.0 1047.9v-11.5M1181.0 153.1v11.5M1204.7 1047.9v-11.5M1204.7 153.1v11.5M1228.4 1047.9v-11.5M1228.4 153.1v11.5M1252.1 1047.9v-11.5M1252.1 153.1v11.5M1299.5 1047.9v-11.5M1299.5 153.1v11.5M1323.2 1047.9v-11.5M1323.2 153.1v11.5M1346.9 1047.9v-11.5M1346.9 153.1v11.5M1370.6 1047.9v-11.5M1370.6 153.1v11.5M1418.0 1047.9v-11.5M1418.0 153.1v11.5M1441.7 1047.9v-11.5M1441.7 153.1v11.5M1465.5 1047.9v-11.5M1465.5 153.1v11.5M1489.2 1047.9v-11.5M1489.2 153.1v11.5M1536.6 1047.9v-11.5M1536.6 153.1v11.5M1560.3 1047.9v-11.5M1560.3 153.1v11.5M1584.0 1047.9v-11.5M1584.0 153.1v11.5M1607.7 1047.9v-11.5M1607.7 153.1v11.5M1655.1 1047.9v-11.5M1655.1 153.1v11.5M1678.8 1047.9v-11.5M1678.8 153.1v11.5M1702.5 1047.9v-11.5M1702.5 153.1v11.5M1726.2 1047.9v-11.5M1726.2 153.1v11.5M1773.6 1047.9v-11.5M1773.6 153.1v11.5M1797.3 1047.9v-11.5M1797.3 153.1v11.5M1821.0 1047.9v-11.5M1821.0 153.1v11.5M1844.7 1047.9v-11.5M1844.7 153.1v11.5M256.6 1040.2h10M1868.4 1040.2h-10M256.6 1032.4h10M1868.4 1032.4h-10M256.6 1024.7h10M1868.4 1024.7h-10M256.6 1016.9h10M1868.4 1016.9h-10M256.6 1001.3h10M1868.4 1001.3h-10M256.6 993.6h10M1868.4 993.6h-10M256.6 985.8h10M1868.4 985.8h-10M256.6 978.0h10M1868.4 978.0h-10M256.6 962.4h10M1868.4 962.4h-10M256.6 954.7h10M1868.4 954.7h-10M256.6 946.9h10M1868.4 946.9h-10M256.6 939.1h10M1868.4 939.1h-10M256.6 923.5h10M1868.4 923.5h-10M256.6 915.8h10M1868.4 915.8h-10M256.6 908.0h10M1868.4 908.0h-10M256.6 900.2h10M1868.4 900.2h-10M256.6 884.7h10M1868.4 884.7h-10M256.6 876.9h10M1868.4 876.9h-10M256.6 869.1h10M1868.4 869.1h-10M256.6 861.3h10M1868.4 861.3h-10M256.6 845.8h10M1868.4 845.8h-10M256.6 838.0h10M1868.4 838.0h-10M256.6 830.2h10M1868.4 830.2h-10M256.6 822.4h10M1868.4 822.4h-10M256.6 806.9h10M1868.4 806.9h-10M256.6 799.1h10M1868.4 799.1h-10M256.6 791.3h10M1868.4 791.3h-10M256.6 783.5h10M1868.4 783.5h-10M256.6 768.0h10M1868.4 768.0h-10M256.6 760.2h10M1868.4 760.2h-10M256.6 752.4h10M1868.4 752.4h-10M256.6 744.6h10M1868.4 744.6h-10M256.6 729.1h10M1868.4 729.1h-10M256.6 721.3h10M1868.4 721.3h-10M256.6 713.5h10M1868.4 713.5h-10M256.6 705.8h10M1868.4 705.8h-10M256.6 690.2h10M1868.4 690.2h-10M256.6 682.4h10M1868.4 682.4h-10M256.6 674.6h10M1868.4 674.6h-10M256.6 666.9h10M1868.4 666.9h-10M256.6 651.3h10M1868.4 651.3h-10M256.6 643.5h10M1868.4 643.5h-10M256.6 635.8h10M1868.4 635.8h-10M256.6 628.0h10M1868.4 628.0h-10M256.6 612.4h10M1868.4 612.4h-10M256.6 604.6h10M1868.4 604.6h-10M256.6 596.9h10M1868.4 596.9h-10M256.6 589.1h10M1868.4 589.1h-10M256.6 573.5h10M1868.4 573.5h-10M256.6 565.7h10M1868.4 565.7h-10M256.6 558.0h10M1868.4 558.0h-10M256.6 550.2h10M1868.4 550.2h-10M256.6 534.6h10M1868.4 534.6h-10M256.6 526.9h10M1868.4 526.9h-10M256.6 519.1h10M1868.4 519.1h-10M256.6 511.3h10M1868.4 511.3h-10M256.6 495.7h10M1868.4 495.7h-10M256.6 488.0h10M1868.4 488.0h-10M256.6 480.2h10M1868.4 480.2h-10M256.6 472.4h10M1868.4 472.4h-10M256.6 456.9h10M1868.4 456.9h-10M256.6 449.1h10M1868.4 449.1h-10M256.6 441.3h10M1868.4 441.3h-10M256.6 433.5h10M1868.4 433.5h-10M256.6 418.0h10M1868.4 418.0h-10M256.6 410.2h10M1868.4 410.2h-10M256.6 402.4h10M1868.4 402.4h-10M256.6 394.6h10M1868.4 394.6h-10M256.6 379.1h10M1868.4 379.1h-10M256.6 371.3h10M1868.4 371.3h-10M256.6 363.5h10M1868.4 363.5h-10M256.6 355.7h10M1868.4 355.7h-10M256.6 340.2h10M1868.4 340.2h-10M256.6 332.4h10M1868.4 332.4h-10M256.6 324.6h10M1868.4 324.6h-10M256.6 316.8h10M1868.4 316.8h-10M256.6 301.3h10M1868.4 301.3h-10M256.6 293.5h10M1868.4 293.5h-10M256.6 285.7h10M1868.4 285.7h-10M256.6 278.0h10M1868.4 278.0h-10M256.6 262.4h10M1868.4 262.4h-10M256.6 254.6h10M1868.4 254.6h-10M256.6 246.8h10M1868.4 246.8h-10M256.6 239.1h10M1868.4 239.1h-10M256.6 223.5h10M1868.4 223.5h-10M256.6 215.7h10M1868.4 215.7h-10M256.6 207.9h10M1868.4 207.9h-10M256.6 200.2h10M1868.4 200.2h-10M256.6 184.6h10M1868.4 184.6h-10M256.6 176.8h10M1868.4 176.8h-10M256.6 169.1h10M1868.4 169.1h-10M256.6 161.3h10M1868.4 161.3h-10" fill="none" stroke="#444" stroke-width="1.25"/>
<rect x="256.6" y="153.1" width="1611.8" height="894.8" fill="none" stroke="#000" stroke-width="2.1"/>
<text class="b" font-size="42.5" x="183.10000000000002" y="1063.6" textLength="65.2" lengthAdjust="spacingAndGlyphs">310</text>
<text class="b" font-size="42.5" x="183.10000000000002" y="985.8" textLength="65.2" lengthAdjust="spacingAndGlyphs">320</text>
<text class="b" font-size="42.5" x="183.10000000000002" y="908.0" textLength="65.2" lengthAdjust="spacingAndGlyphs">330</text>
<text class="b" font-size="42.5" x="183.10000000000002" y="830.3" textLength="65.2" lengthAdjust="spacingAndGlyphs">340</text>
<text class="b" font-size="42.5" x="183.10000000000002" y="752.5" textLength="65.2" lengthAdjust="spacingAndGlyphs">350</text>
<text class="b" font-size="42.5" x="183.10000000000002" y="674.7" textLength="65.2" lengthAdjust="spacingAndGlyphs">360</text>
<text class="b" font-size="42.5" x="183.10000000000002" y="596.9" textLength="65.2" lengthAdjust="spacingAndGlyphs">370</text>
<text class="b" font-size="42.5" x="183.10000000000002" y="519.1" textLength="65.2" lengthAdjust="spacingAndGlyphs">380</text>
<text class="b" font-size="42.5" x="183.10000000000002" y="441.3" textLength="65.2" lengthAdjust="spacingAndGlyphs">390</text>
<text class="b" font-size="42.5" x="183.10000000000002" y="363.6" textLength="65.2" lengthAdjust="spacingAndGlyphs">400</text>
<text class="b" font-size="42.5" x="183.10000000000002" y="285.8" textLength="65.2" lengthAdjust="spacingAndGlyphs">410</text>
<text class="b" font-size="42.5" x="183.10000000000002" y="208.0" textLength="65.2" lengthAdjust="spacingAndGlyphs">420</text>
<text class="b" font-size="36" x="289.5" y="1083.3" textLength="76.5" lengthAdjust="spacingAndGlyphs">1960</text>
<text class="b" font-size="36" x="408.0" y="1083.3" textLength="76.5" lengthAdjust="spacingAndGlyphs">1965</text>
<text class="b" font-size="36" x="526.5" y="1083.3" textLength="76.5" lengthAdjust="spacingAndGlyphs">1970</text>
<text class="b" font-size="36" x="645.0" y="1083.3" textLength="76.5" lengthAdjust="spacingAndGlyphs">1975</text>
<text class="b" font-size="36" x="763.5" y="1083.3" textLength="76.5" lengthAdjust="spacingAndGlyphs">1980</text>
<text class="b" font-size="36" x="882.0" y="1083.3" textLength="76.5" lengthAdjust="spacingAndGlyphs">1985</text>
<text class="b" font-size="36" x="1000.5" y="1083.3" textLength="76.5" lengthAdjust="spacingAndGlyphs">1990</text>
<text class="b" font-size="36" x="1119.1" y="1083.3" textLength="76.5" lengthAdjust="spacingAndGlyphs">1995</text>
<text class="b" font-size="36" x="1237.6" y="1083.3" textLength="76.5" lengthAdjust="spacingAndGlyphs">2000</text>
<text class="b" font-size="36" x="1356.1" y="1083.3" textLength="76.5" lengthAdjust="spacingAndGlyphs">2005</text>
<text class="b" font-size="36" x="1474.6" y="1083.3" textLength="76.5" lengthAdjust="spacingAndGlyphs">2010</text>
<text class="b" font-size="36" x="1593.1" y="1083.3" textLength="76.5" lengthAdjust="spacingAndGlyphs">2015</text>
<text class="b" font-size="36" x="1711.6" y="1083.3" textLength="76.5" lengthAdjust="spacingAndGlyphs">2020</text>
<text class="b" font-size="36" x="1830.2" y="1083.3" textLength="76.5" lengthAdjust="spacingAndGlyphs">2025</text>
<defs>
<radialGradient id="gl" cx="0.55" cy="0.55" r="0.62">
<stop offset="0" stop-color="#3f9fd8"/><stop offset="0.45" stop-color="#1f66b8"/><stop offset="0.85" stop-color="#1d4c9e"/><stop offset="1" stop-color="#2b3f8f"/>
</radialGradient>
<clipPath id="gc"><circle cx="1639.4" cy="976.4" r="16.9"/></clipPath>
<filter id="bl" x="-20%" y="-20%" width="140%" height="140%"><feGaussianBlur stdDeviation="1.6"/></filter>
</defs>
<g id="logo" stroke="#4a4a4a" stroke-width="0.35">
<text class="sf" font-size="23.5" x="1467" y="982.2" textLength="120" lengthAdjust="spacingAndGlyphs">UC San Diego</text>
<path d="M1467 987.2H1587" stroke="#b0b0b0" stroke-width="0.8" fill="none"/>
<path d="M1604.6 949.5V995" stroke="#d4d4d4" stroke-width="1.1" fill="none"/>
<circle cx="1639.4" cy="976.4" r="16.9" fill="url(#gl)" stroke="none"/>
<g clip-path="url(#gc)" filter="url(#bl)" stroke="none">
<path d="M1629 962 L1636 960 L1641 966 L1638 972 L1644 978 L1650 982 L1652 990 L1644 994 L1640 986 L1634 978 L1630 970 Z" fill="#4fb8d8" opacity="0.75"/>
<path d="M1643 980 L1652 978 L1656 986 L1648 994 L1641 992 Z" fill="#46b09a" opacity="0.8"/>
<path d="M1632 966 L1637 972 L1642 980" stroke="#9fe0f0" stroke-width="1.6" style="stroke:#9fe0f0" fill="none" opacity="0.8"/>
</g>
<text class="sf" x="1661" y="975.4" textLength="73.4" lengthAdjust="spacingAndGlyphs"><tspan font-size="21.6">S</tspan><tspan font-size="16.6">CRIPPS</tspan></text>
<text class="sf" font-size="5.6" font-weight="bold" x="1738.2" y="974.6" textLength="71" lengthAdjust="spacing">INSTITUTION OF</text>
<text class="sf" font-size="16" x="1662" y="991.3" textLength="146.7" lengthAdjust="spacingAndGlyphs">OCEANOGRAPHY</text>
</g>

<text class="b" font-size="54" x="1062.3" y="1137.8" textLength="111" lengthAdjust="spacingAndGlyphs" text-anchor="middle">Year</text>
<text class="b" font-size="53" transform="translate(152.5,600) rotate(-90)" text-anchor="middle" textLength="624" lengthAdjust="spacingAndGlyphs">CO<tspan font-size="38.2" dy="9">2</tspan><tspan dy="-9"> Concentration (ppm)</tspan></text>
</svg>
</body></html>
